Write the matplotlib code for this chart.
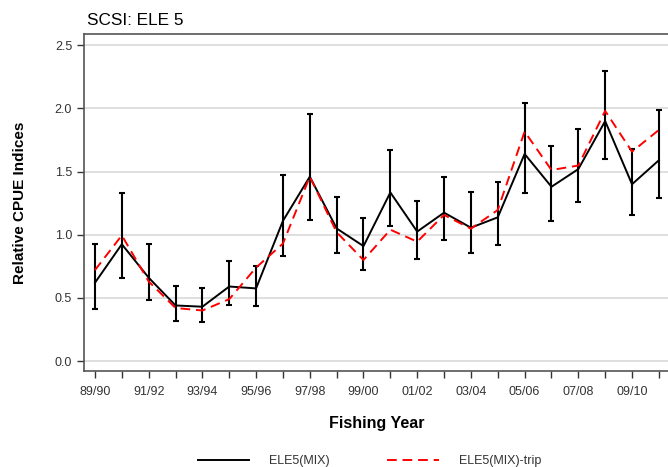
import matplotlib
matplotlib.use("Agg")
import matplotlib.pyplot as plt
from matplotlib.lines import Line2D

plt.rcParams['font.family'] = ['Liberation Sans', 'DejaVu Sans']

years = ['89/90', '90/91', '91/92', '92/93', '93/94', '94/95', '95/96', '96/97',
         '97/98', '98/99', '99/00', '00/01', '01/02', '02/03', '03/04', '04/05',
         '05/06', '06/07', '07/08', '08/09', '09/10', '10/11']

mix = [0.62, 0.925, 0.66, 0.44, 0.43, 0.59, 0.575, 1.11, 1.46, 1.05, 0.91, 1.335,
       1.025, 1.175, 1.056, 1.138, 1.64, 1.38, 1.52, 1.90, 1.40, 1.59]
mix_lo = [0.415, 0.66, 0.48, 0.32, 0.31, 0.44, 0.435, 0.832, 1.115, 0.853, 0.72, 1.07,
          0.81, 0.96, 0.853, 0.92, 1.334, 1.112, 1.26, 1.603, 1.16, 1.292]
mix_hi = [0.925, 1.33, 0.925, 0.595, 0.58, 0.79, 0.75, 1.474, 1.96, 1.30, 1.135, 1.672,
          1.27, 1.455, 1.337, 1.416, 2.04, 1.704, 1.841, 2.30, 1.68, 1.989]
trip = [0.72, 0.995, 0.63, 0.42, 0.40, 0.49, 0.74, 0.93, 1.46, 1.02, 0.80, 1.04,
        0.945, 1.157, 1.048, 1.196, 1.817, 1.513, 1.548, 1.981, 1.658, 1.83]

x = list(range(len(years)))
err_lo = [m - l for m, l in zip(mix, mix_lo)]
err_hi = [h - m for m, h in zip(mix, mix_hi)]

fig = plt.figure(figsize=(6.68, 4.67), dpi=100)
ax = fig.add_axes([0.1257, 0.2056, 0.8743, 0.7216])

ax.grid(axis='y', color='#dcdcdc', linewidth=1.3)
ax.set_axisbelow(True)

ax.errorbar(x, mix, yerr=[err_lo, err_hi], fmt='none', ecolor='black',
            elinewidth=1.5, capsize=2.5, capthick=1.5, zorder=3)
ax.plot(x, mix, color='black', linewidth=1.4, zorder=4)
ax.plot(x, trip, color='red', linewidth=1.4, dashes=(5, 3), zorder=4)

ax.set_xlim(-0.41, 21.34)
ax.set_ylim(-0.079, 2.59)
ax.set_xticks(x)
ax.set_xticklabels([y if i % 2 == 0 else '' for i, y in enumerate(years)])
ax.set_yticks([0.0, 0.5, 1.0, 1.5, 2.0, 2.5])
ax.set_yticklabels(['0.0', '0.5', '1.0', '1.5', '2.0', '2.5'])
ax.tick_params(axis='both', colors='#333333', labelsize=9, width=1, length=5,
               labelcolor='#333333')
ax.tick_params(axis='x', pad=6)

ax.spines['right'].set_visible(False)
for s in ['top', 'left', 'bottom']:
    ax.spines[s].set_color('#555555')
    ax.spines[s].set_linewidth(1.2)

ax.set_xlabel('Fishing Year', fontsize=11.5, fontweight='bold')
ax.set_ylabel('Relative CPUE Indices', fontsize=11, fontweight='bold')
ax.xaxis.set_label_coords(0.502, -0.135)
ax.yaxis.set_label_coords(-0.097, 0.5)
fig.text(0.13, 0.94, 'SCSI: ELE 5', fontsize=12.4, ha='left', va='bottom')

handles = [Line2D([], [], color='black', linewidth=1.4),
           Line2D([], [], color='red', linewidth=1.4, dashes=(5, 3))]
fig.legend(handles, ['ELE5(MIX)', 'ELE5(MIX)-trip'], loc='center',
           bbox_to_anchor=(0.553, 0.013), ncol=2, frameon=False, fontsize=9,
           handlelength=4.1, handletextpad=1.6, columnspacing=4.6,
           labelcolor='#333333')

fig.savefig('out.png', dpi=100)
